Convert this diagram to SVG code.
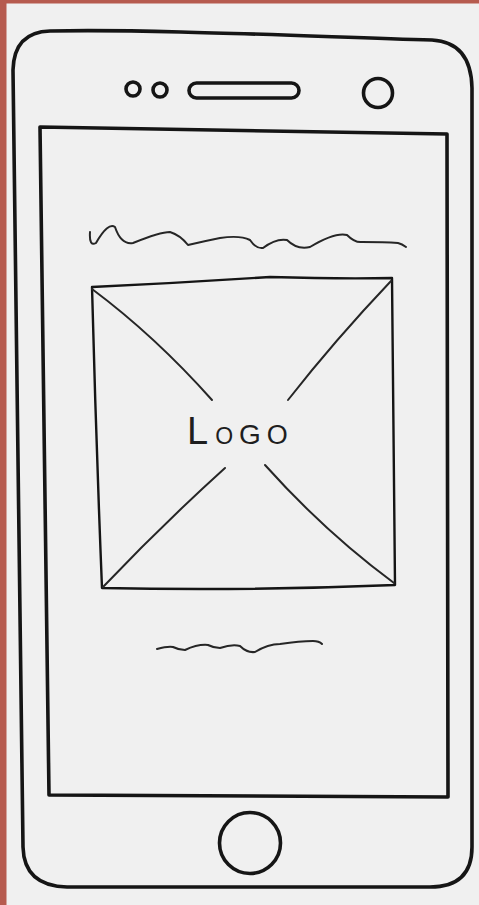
<svg xmlns="http://www.w3.org/2000/svg" width="479" height="905" viewBox="0 0 479 905">
<style>
.ink{fill:none;stroke:#151515;stroke-linecap:round;stroke-linejoin:round}
.thick{stroke-width:3.6}
.mid{stroke-width:2.4}
.thin{stroke-width:2;stroke:#262626}
.txt{font-family:"Liberation Sans",Arial,sans-serif;fill:#1e1e1e}
</style>
<rect x="0" y="0" width="479" height="905" fill="#f0f0f0"/>
<rect x="0" y="0" width="479" height="3.5" fill="#b65b4f"/>
<rect x="0" y="0" width="6.5" height="905" fill="#b65b4f"/>
<g id="phone">
<path class="ink thick" d="M 50,31 C 150,29 300,36 432,40 Q 471,42 472,88 L 472,847 Q 472,887 430,887 L 67,887 Q 24,886 23,847 L 13,70 Q 14,32 50,31 Z"/>
</g>
<g id="earpiece">
<circle class="ink thick" cx="133" cy="89" r="7"/>
<circle class="ink thick" cx="160" cy="90" r="7"/>
<rect class="ink thick" x="189" y="83" width="110" height="15" rx="7.5"/>
<circle class="ink thick" cx="378" cy="93" r="14.5"/>
</g>
<g id="screen">
<path class="ink thick" d="M 40,127 L 447,134 L 448,797 L 49,795 Z"/>
</g>
<g id="title-line">
<path class="ink thin" d="M 90,232 Q 89,247 96,243 Q 108,222 115,227 Q 121,245 133,243 Q 160,232 170,232 Q 180,235 188,245 Q 205,241 220,238 Q 240,235 250,240 Q 256,249 263,248 Q 276,238 287,240 Q 297,250 310,247 Q 335,232 347,235 Q 355,243 362,242 Q 385,242 398,243 Q 402,244 406,247"/>
</g>
<g id="logo">
<path class="ink mid" d="M 92,287 Q 180,283 270,277 Q 340,279 392,278 Q 393,430 395,585 Q 250,591 102,588 Q 96,440 92,287 Z"/>
<path class="ink thin" d="M 92,289 Q 155,336 212,400"/>
<path class="ink thin" d="M 391,281 Q 335,340 288,400"/>
<path class="ink thin" d="M 103,587 Q 162,525 225,468"/>
<path class="ink thin" d="M 265,465 Q 325,532 394,583"/>
<text class="txt" x="187" y="444"><tspan font-size="38">L</tspan><tspan font-size="23" dx="7">O</tspan><tspan font-size="28" dx="6">G</tspan><tspan font-size="27" dx="6">O</tspan></text>
</g>
<g id="caption-line">
<path class="ink thin" d="M 157,649 Q 168,646 173,647 Q 179,650 185,650 Q 198,644 208,645 Q 214,648 220,648 Q 232,644 240,646 Q 247,653 255,652 Q 268,644 280,644 Q 300,641 313,641 Q 319,641 322,644"/>
</g>
<g id="home-button">
<circle class="ink thick" cx="250" cy="843" r="30.5"/>
</g>
<g id="connectors"></g>
</svg>
